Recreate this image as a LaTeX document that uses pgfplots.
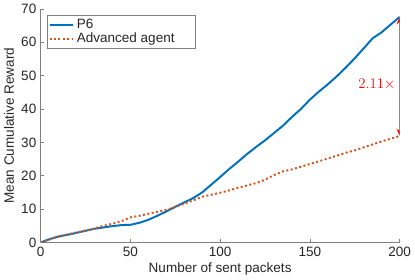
\documentclass[border=0pt]{standalone}
\usepackage{pgfplots}
\pgfplotsset{compat=1.18}
\usepackage{fontspec}
\setmainfont{Liberation Sans}
\usetikzlibrary{arrows.meta}
\definecolor{mblue}{rgb}{0,0.447,0.741}
\definecolor{morange}{rgb}{0.85,0.325,0.098}
\definecolor{mtext}{rgb}{0.15,0.15,0.15}
\definecolor{maxis}{rgb}{0.5,0.5,0.5}
\begin{document}
\begin{tikzpicture}
\begin{axis}[
  scale only axis,
  width=292pt, height=190pt,
  xmin=0, xmax=200, ymin=0, ymax=70,
  axis x line*=bottom, axis y line*=left,
  axis line style={maxis, line width=0.5pt},
  xtick={0,50,100,150,200},
  ytick={0,10,20,30,40,50,60,70},
  tick align=inside,
  major tick length=2.5pt,
  tick style={maxis, line width=0.5pt},
  every tick label/.style={font=\fontsize{11}{13}\selectfont, text=mtext},
  /pgf/number format/assume math mode=true,
  xlabel={Number of sent packets},
  ylabel={Mean Cumulative Reward},
  label style={font=\fontsize{11}{13}\selectfont, text=mtext},
  xlabel style={yshift=2pt},
  ylabel style={yshift=-1pt},
  legend style={at={(rel axis cs:0.018,0.973)}, anchor=north west,
    draw=maxis, line width=0.5pt, font=\fontsize{11}{13}\selectfont, text=mtext,
    inner sep=1pt, row sep=-2pt},
  legend cell align=left,
  legend image code/.code={\draw[#1] (0cm,0cm) -- (0.68cm,0cm);},
]
\addplot[mblue, line width=1.6pt] coordinates {
(0,0) (5,1.0) (10,1.8) (15,2.3) (20,2.9) (25,3.5) (30,4.1) (35,4.5) (40,4.9) (45,5.2)
(50,5.3) (55,5.9) (60,6.8) (65,8.0) (70,9.3) (75,10.7) (80,12.0) (85,13.3) (90,15.0) (95,17.3)
(100,19.6) (105,22.0) (110,24.2) (115,26.5) (120,28.6) (125,30.6) (130,32.8) (135,35.0) (140,37.6) (145,40.0)
(150,42.8) (155,45.2) (160,47.4) (165,49.8) (170,52.4) (175,55.2) (180,58.2) (185,61.2) (190,63.0) (195,65.3)
(200,67.6)};
\addlegendentry{P6}
\addplot[morange, line width=1.6pt, dotted] coordinates {
(0,0) (5,0.9) (10,1.8) (15,2.4) (20,3.0) (25,3.6) (30,4.2) (35,5.0) (40,5.6) (45,6.4)
(50,7.5) (55,8.0) (60,8.6) (65,9.2) (70,9.8) (75,10.6) (80,11.6) (85,12.6) (90,13.7) (95,14.3)
(100,14.9) (105,15.6) (110,16.4) (115,17.1) (120,17.8) (125,18.8) (130,20.2) (135,21.3) (140,21.9) (145,22.7)
(150,23.5) (155,24.3) (160,25.2) (165,26.0) (170,26.9) (175,27.6) (180,28.5) (185,29.4) (190,30.3) (195,31.1)
(200,31.9)};
\addlegendentry{Advanced agent\rule{14pt}{0pt}}
\draw[red, line width=1.2pt, {Stealth[length=6pt,width=5pt]}-{Stealth[length=6pt,width=5pt]}] (axis cs:200,31.9) -- (axis cs:200,67.6);
\node[red, anchor=east, font=\fontsize{12}{14}\selectfont, inner sep=1pt] at (axis cs:198.5,47.5) {$2.11\times$};
\end{axis}
\end{tikzpicture}
\end{document}
